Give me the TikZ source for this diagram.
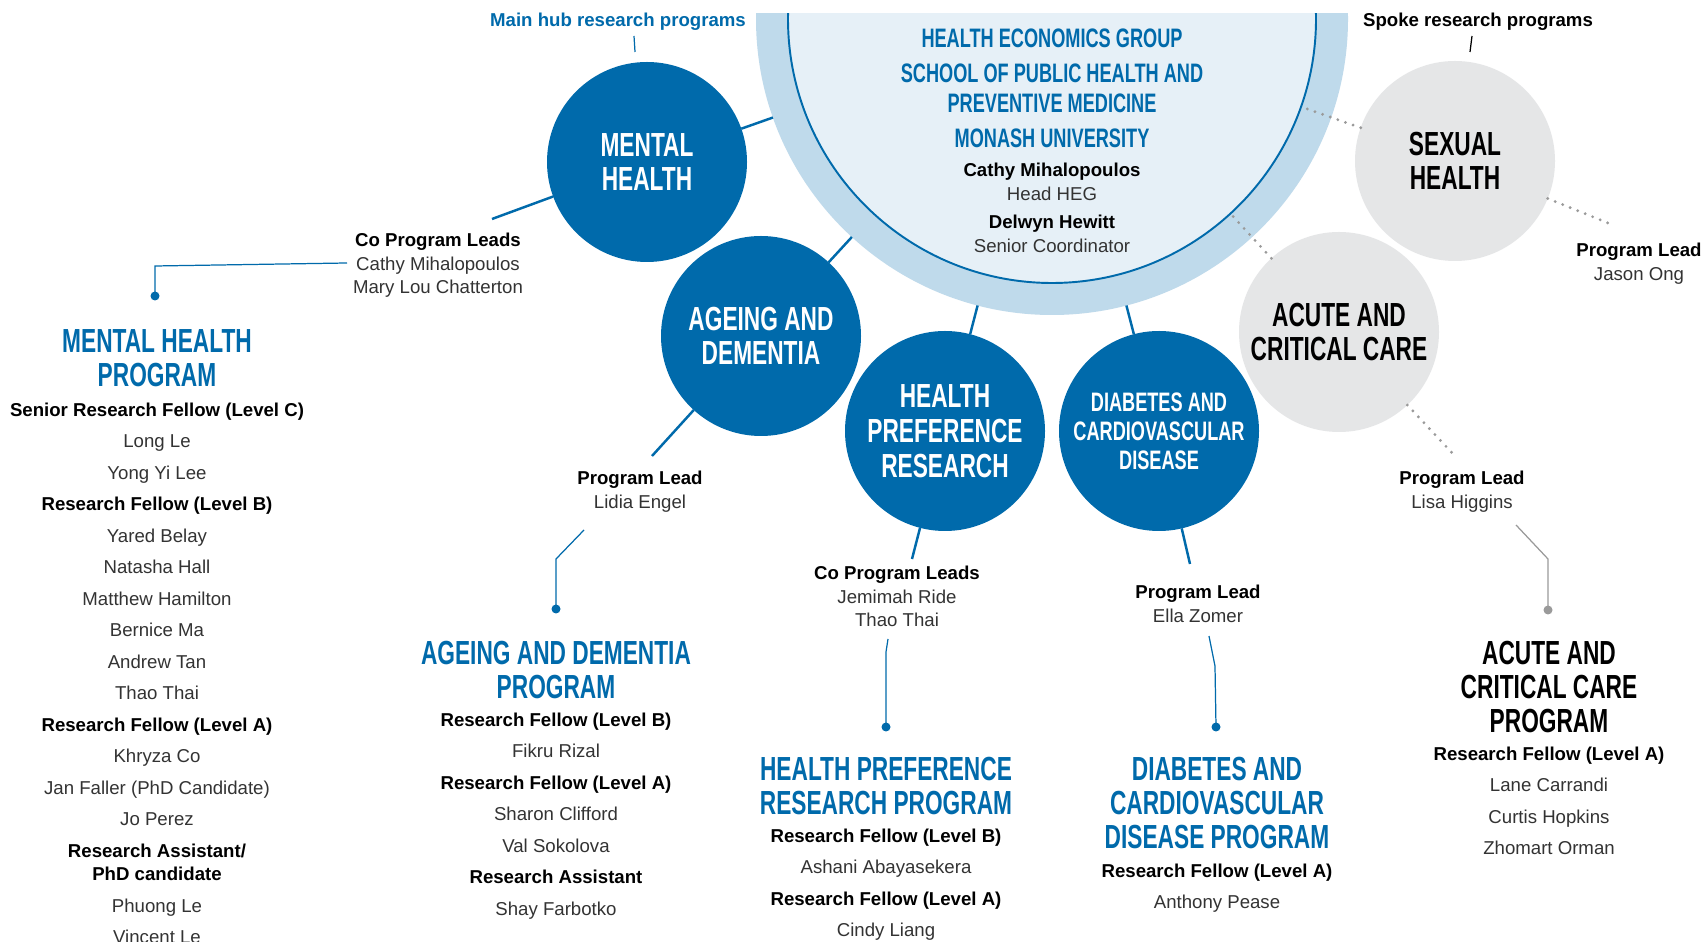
\documentclass[tikz,border=0pt]{standalone}
\usepackage{fontspec}
\setmainfont{Liberation Sans}
\newfontfamily\headfont[FakeStretch=0.68]{Liberation Sans}
\usetikzlibrary{calc}
\definecolor{hubblue}{HTML}{006AAB}
\definecolor{ringblue}{HTML}{BFDAEB}
\definecolor{hubfill}{HTML}{E6F0F7}
\definecolor{spokegrey}{HTML}{E5E6E7}
\definecolor{dotgrey}{HTML}{9A9A9A}
\newcommand{\role}[1]{\textbf{\color{black}#1}}

\begin{document}
\begin{tikzpicture}
\tikzstyle{hubcirc}=[circle,fill=hubblue,text=white,minimum size=2cm,inner sep=0pt,outer sep=0pt,align=center,font=\headfont\bfseries\fontsize{9.5}{9.8}\selectfont]
\tikzstyle{spokecirc}=[hubcirc,fill=spokegrey,text=black]
\tikzstyle{link}=[hubblue,line width=0.7pt]
\tikzstyle{dotlink}=[dotgrey,line width=0.9pt,line cap=round,dash pattern=on 0pt off 2.3pt]
\tikzstyle{leader}=[hubblue,line width=0.35pt]
\tikzstyle{dotend}=[circle,fill=hubblue,inner sep=0pt,minimum size=0.09cm]
\tikzstyle{lead}=[align=center,inner sep=0pt,anchor=north,text=black!80,font=\fontsize{5.3}{6.8}\selectfont]
\tikzstyle{progtitle}=[align=center,inner sep=0pt,anchor=north,text=hubblue,font=\headfont\bfseries\fontsize{9.5}{9.7}\selectfont]
\tikzstyle{staff}=[align=center,inner sep=0pt,anchor=north,text=black!80,font=\fontsize{5.3}{8.96}\selectfont]

\fill[white] (0,0) rectangle (17.03,-9.42);
\useasboundingbox (0,0) rectangle (17.03,-9.42);

\begin{scope}
\clip (0,-0.14) rectangle (17.03,-9.42);
\node[circle,fill=ringblue,minimum size=5.92cm,inner sep=0pt,outer sep=0pt] (hub) at (10.52,-0.19) {};
\node[circle,fill=hubfill,draw=hubblue,line width=0.55pt,minimum size=5.28cm,inner sep=0pt,outer sep=0pt] (hubin) at (10.52,-0.19) {};
\end{scope}

\node[align=center,inner sep=0pt,anchor=north,text=hubblue,font=\headfont\bfseries\fontsize{7.6}{8.5}\selectfont] (hub_title) at (10.52,-0.285) {HEALTH ECONOMICS GROUP\\[1.4pt] SCHOOL OF PUBLIC HEALTH AND\\PREVENTIVE MEDICINE\\[1.4pt] MONASH UNIVERSITY};
\node[lead] (hub_staff) at (10.52,-1.62) {\role{Cathy Mihalopoulos}\\Head HEG\\[1.4pt]\role{Delwyn Hewitt}\\Senior Coordinator};

\node[hubcirc] (MH) at (6.47,-1.62) {MENTAL\\HEALTH};
\node[hubcirc] (AD) at (7.61,-3.36) {AGEING AND\\DEMENTIA};
\node[hubcirc,font=\headfont\bfseries\fontsize{9.5}{9.9}\selectfont] (HPR) at (9.45,-4.31) {HEALTH\\PREFERENCE\\RESEARCH};
\node[hubcirc,font=\headfont\bfseries\fontsize{7.6}{8.3}\selectfont] (DCD) at (11.59,-4.31) {DIABETES AND\\CARDIOVASCULAR\\DISEASE};
\node[spokecirc] (SH) at (14.55,-1.61) {SEXUAL\\HEALTH};
\node[spokecirc] (ACC) at (13.39,-3.32) {ACUTE AND\\CRITICAL CARE};

\draw[link] (MH) -- (hub);
\draw[link] (AD) -- (hub);
\draw[link] (HPR) -- (hub);
\draw[link] (DCD) -- (hub);
\draw[dotlink] (SH) -- (hubin);
\draw[dotlink] (ACC) -- (hubin);

\node[text=hubblue,font=\bfseries\fontsize{5.3}{6}\selectfont] (hub_lbl) at (6.18,-0.22) {Main hub research programs};
\node[font=\bfseries\fontsize{5.3}{6}\selectfont] (spoke_lbl) at (14.78,-0.22) {Spoke research programs};
\coordinate (hub_t1) at (6.34,-0.36);
\coordinate (hub_t2) at (6.35,-0.52);
\coordinate (spoke_t1) at (14.72,-0.36);
\coordinate (spoke_t2) at (14.70,-0.52);
\draw[leader] (hub_t1) -- (hub_t2);
\draw[black,line width=0.35pt] (spoke_t1) -- (spoke_t2);

\coordinate (MH_l) at (4.92,-2.19);
\coordinate (AD_l) at (6.52,-4.56);
\coordinate (HPR_l) at (9.12,-5.59);
\coordinate (DCD_l) at (11.90,-5.64);
\coordinate (SH_l) at (16.13,-2.25);
\coordinate (ACC_l) at (14.55,-4.56);
\draw[link] (MH) -- (MH_l);
\draw[link] (AD) -- (AD_l);
\draw[link] (HPR) -- (HPR_l);
\draw[link] (DCD) -- (DCD_l);
\draw[dotlink] (SH) -- (SH_l);
\draw[dotlink] (ACC) -- (ACC_l);

\node[lead] (MH_lead) at (4.38,-2.32) {\role{Co Program Leads}\\Cathy Mihalopoulos\\Mary Lou Chatterton};
\node[lead] (AD_lead) at (6.40,-4.70) {\role{Program Lead}\\Lidia Engel};
\node[lead] (HPR_lead) at (8.97,-5.65) {\role{Co Program Leads}\\Jemimah Ride\\Thao Thai};
\node[lead] (DCD_lead) at (11.98,-5.84) {\role{Program Lead}\\Ella Zomer};
\node[lead] (SH_lead) at (16.39,-2.42) {\role{Program Lead}\\Jason Ong};
\node[lead] (ACC_lead) at (14.62,-4.70) {\role{Program Lead}\\Lisa Higgins};

\coordinate (MH_s) at (3.47,-2.63);
\coordinate (MH_b) at (1.55,-2.66);
\node[dotend] (MH_dot) at (1.55,-2.96) {};
\coordinate (AD_s) at (5.84,-5.30);
\coordinate (AD_b) at (5.56,-5.59);
\node[dotend] (AD_dot) at (5.56,-6.09) {};
\coordinate (HPR_s) at (8.88,-6.39);
\coordinate (HPR_b) at (8.86,-6.52);
\node[dotend] (HPR_dot) at (8.86,-7.27) {};
\coordinate (DCD_s) at (12.09,-6.36);
\coordinate (DCD_b) at (12.15,-6.66);
\node[dotend] (DCD_dot) at (12.16,-7.27) {};
\coordinate (ACC_s) at (15.16,-5.25);
\coordinate (ACC_b) at (15.48,-5.59);
\node[dotend,fill=dotgrey] (ACC_dot) at (15.48,-6.10) {};
\draw[leader] (MH_s) -- (MH_b) -- (MH_dot.center);
\draw[leader] (AD_s) -- (AD_b) -- (AD_dot.center);
\draw[leader] (HPR_s) -- (HPR_b) -- (HPR_dot.center);
\draw[leader] (DCD_s) -- (DCD_b) -- (DCD_dot.center);
\draw[dotgrey,line width=0.35pt] (ACC_s) -- (ACC_b) -- (ACC_dot.center);

\node[progtitle] (MH_prog) at (1.57,-3.29) {MENTAL HEALTH\\PROGRAM};
\node[staff] (MH_staff) at (1.57,-4.02) {\role{Senior Research Fellow (Level C)}\\Long Le\\Yong Yi Lee\\\role{Research Fellow (Level B)}\\Yared Belay\\Natasha Hall\\Matthew Hamilton\\Bernice Ma\\Andrew Tan\\Thao Thai\\\role{Research Fellow (Level A)}\\Khryza Co\\Jan Faller (PhD Candidate)\\Jo Perez\\\role{Research Assistant/}\\[-2.2pt]\role{PhD candidate}\\Phuong Le\\Vincent Le};
\node[progtitle] (AD_prog) at (5.56,-6.40) {AGEING AND DEMENTIA\\PROGRAM};
\node[staff] (AD_staff) at (5.56,-7.12) {\role{Research Fellow (Level B)}\\Fikru Rizal\\\role{Research Fellow (Level A)}\\Sharon Clifford\\Val Sokolova\\\role{Research Assistant}\\Shay Farbotko};
\node[progtitle] (HPR_prog) at (8.86,-7.56) {HEALTH PREFERENCE\\RESEARCH PROGRAM};
\node[staff] (HPR_staff) at (8.86,-8.28) {\role{Research Fellow (Level B)}\\Ashani Abayasekera\\\role{Research Fellow (Level A)}\\Cindy Liang};
\node[progtitle] (DCD_prog) at (12.17,-7.56) {DIABETES AND\\CARDIOVASCULAR\\DISEASE PROGRAM};
\node[staff] (DCD_staff) at (12.17,-8.63) {\role{Research Fellow (Level A)}\\Anthony Pease};
\node[progtitle,text=black] (ACC_prog) at (15.49,-6.40) {ACUTE AND\\CRITICAL CARE\\PROGRAM};
\node[staff] (ACC_staff) at (15.49,-7.46) {\role{Research Fellow (Level A)}\\Lane Carrandi\\Curtis Hopkins\\Zhomart Orman};
\end{tikzpicture}
\end{document}
